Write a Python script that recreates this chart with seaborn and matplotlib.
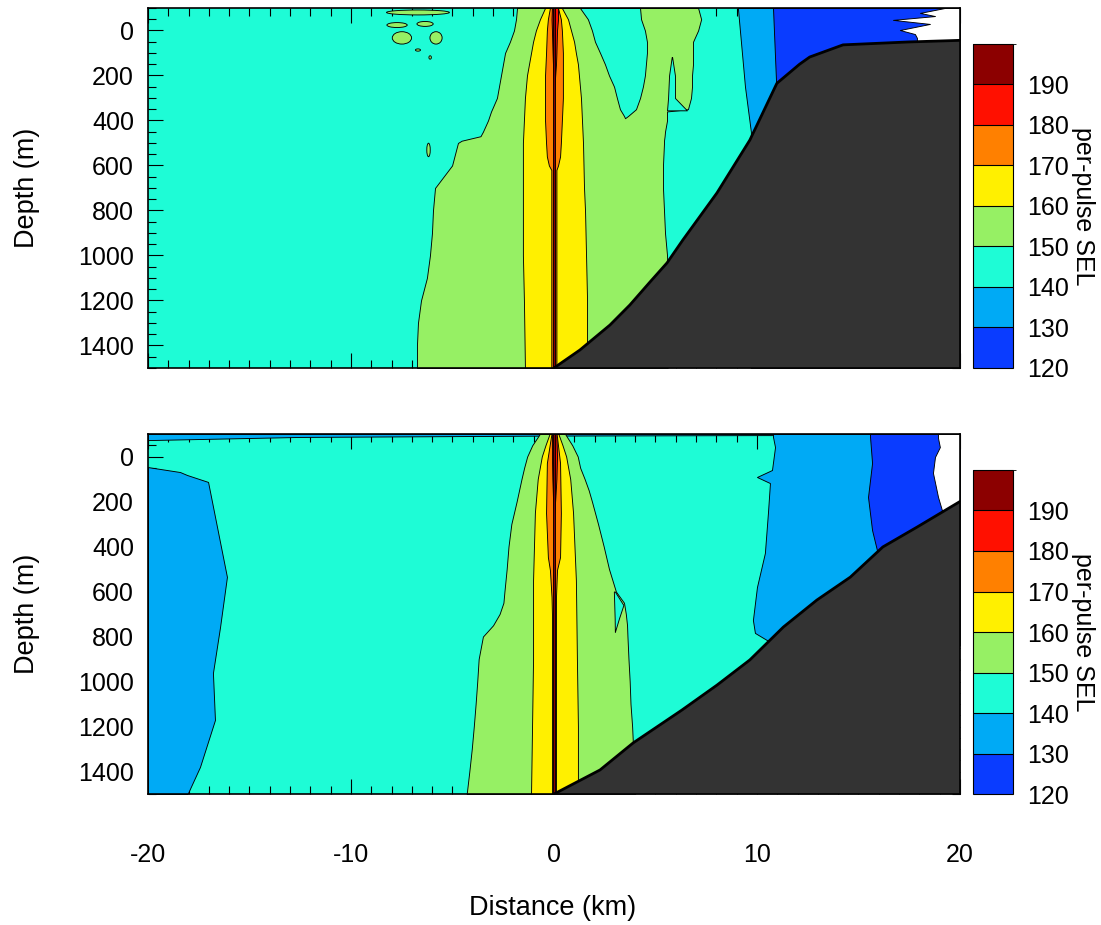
import matplotlib
matplotlib.use("Agg")
import matplotlib.pyplot as plt
import matplotlib.cm as cm
import seaborn as sns
from matplotlib.colors import ListedColormap, BoundaryNorm
from matplotlib.patches import Ellipse
from matplotlib.ticker import MultipleLocator

sns.set_style("ticks")
plt.rcParams['font.family'] = ['Liberation Sans', 'DejaVu Sans']
plt.rcParams['axes.unicode_minus'] = False
for key in ['text.color', 'axes.labelcolor', 'xtick.color', 'ytick.color', 'axes.edgecolor']:
    plt.rcParams[key] = 'black'

# SEL contour levels and their fill colours
levels = [120, 130, 140, 150, 160, 170, 180, 190, 200]
level_colors = ["#0a3cff", "#00aaf5", "#1efcd6", "#96f064",
                "#fff000", "#ff8000", "#ff1000", "#8c0000"]
seafloor_color = "#333333"

# ---------------- upper panel (contour lines) ----------------
top_floor_x = [0.0, 1.28, 2.76, 3.74, 4.73, 5.57, 6.35, 8.03, 9.65, 10.98, 12.1, 12.6, 14.24, 17.5, 20.0]
top_floor_d = [1500, 1420, 1309, 1220, 1118, 1033, 931, 722, 487, 235, 150, 118, 64, 51, 44]

top_green_d = [-100, -50, 0, 50, 100, 150, 200, 250, 300, 350, 360, 400, 450, 470, 490, 500,
               600, 700, 800, 900, 1000, 1100, 1200, 1300, 1400, 1500]
top_green_left = [-1.82, -1.87, -1.97, -2.17, -2.41, -2.51, -2.61, -2.71, -2.81, -3.05, -3.10, -3.25,
                  -3.50, -3.62, -4.55, -4.73, -5.02, -5.86, -5.96, -6.01, -6.11, -6.26, -6.55,
                  -6.70, -6.75, -6.75]
top_green_right = [7.10, 7.25, 7.10, 6.85, 6.85, 6.85, 6.80, 6.80, 6.75, 6.60, 5.57, 5.57,
                   5.47, 5.45, 5.42, 5.42, 5.37, 5.37, 5.42, 5.47, 5.57, 5.60, 5.60, 5.60, 5.60, 5.60]

top_hole1_d = [-100, -50, 0, 50, 100, 150, 200, 250, 300, 350, 380, 390]
top_hole1_left = [1.28, 1.67, 1.87, 2.02, 2.27, 2.51, 2.71, 2.96, 3.10, 3.25, 3.45, 3.50]
top_hole1_right = [4.24, 4.29, 4.48, 4.58, 4.58, 4.53, 4.48, 4.38, 4.24, 4.04, 3.65, 3.50]

top_hole2_d = [118, 200, 300, 355]
top_hole2_left = [5.80, 5.67, 5.62, 5.57]
top_hole2_right = [5.82, 5.96, 5.96, 6.55]

top_yellow_d = [-100, -50, 0, 50, 100, 150, 200, 300, 400, 500, 700, 800, 1000, 1200, 1500]
top_yellow_left = [-0.44, -0.69, -0.89, -1.03, -1.13, -1.23, -1.33, -1.43, -1.48, -1.53,
                   -1.53, -1.53, -1.53, -1.48, -1.43]
top_yellow_right = [0.39, 0.69, 0.84, 0.99, 1.08, 1.18, 1.23, 1.33, 1.38, 1.43,
                    1.48, 1.53, 1.58, 1.63, 1.63]

top_orange_d = [-100, -50, 0, 100, 200, 300, 400, 500, 560, 600, 620, 1500]
top_orange_left = [-0.20, -0.30, -0.35, -0.39, -0.44, -0.44, -0.44, -0.39, -0.35, -0.25, -0.13, -0.13]
top_orange_right = [0.20, 0.34, 0.39, 0.44, 0.44, 0.44, 0.39, 0.34, 0.30, 0.20, 0.12, 0.12]

top_red_d = [-100, -50, 0, 100, 150, 200, 260]
top_red_left = [-0.10, -0.12, -0.10, -0.07, -0.05, -0.03, 0.0]
top_red_right = [0.20, 0.20, 0.15, 0.12, 0.10, 0.06, 0.02]

top_core_d = [-100, 1500]
top_core_left = [-0.04, -0.04]
top_core_right = [0.05, 0.05]

top_b130_d = [-100, 100, 250, 450, 1500]
top_b130_left = [9.06, 9.26, 9.41, 9.70, 9.70]

top_b120_d = [-100, 250, 300, 1500]
top_b120_left = [10.79, 10.95, 11.0, 11.0]

top_white_d = [-100, -78, -64, -47, -29, -2, 16, 33, 55]
top_white_left = [19.26, 18.03, 18.77, 16.70, 18.52, 17.04, 17.78, 17.88, 17.88]

top_blob_x = [-6.70, -7.73, -6.35, -7.49, -5.81, -6.18, -6.70, -6.10]
top_blob_d = [-80, -24, -29, 33, 33, 531, 87, 120]
top_blob_w = [3.1, 1.0, 0.8, 0.95, 0.6, 0.17, 0.25, 0.12]
top_blob_h = [22, 22, 22, 55, 55, 60, 10, 15]

# ---------------- lower panel ----------------
bot_floor_x = [0.0, 2.27, 3.9, 6.3, 8.03, 9.65, 11.3, 12.95, 14.6, 16.2, 17.9, 20.0]
bot_floor_d = [1500, 1393, 1273, 1127, 1016, 904, 758, 638, 536, 402, 313, 200]

bot_strip_x = [-20, -12.5, 0, 10, 20]
bot_strip_d = [-73, -87, -93, -95, -96]

bot_left_d = [47, 69, 82, 113, 535, 758, 962, 1171, 1380, 1500]
bot_left_right = [-20, -18.42, -18.08, -17.04, -16.11, -16.45, -16.80, -16.70, -17.44, -18.05]

bot_green_d = [-100, -50, 0, 50, 100, 150, 200, 300, 400, 500, 600, 650, 700, 750, 800,
               900, 1000, 1100, 1200, 1300, 1400, 1500]
bot_green_left = [-0.70, -1.07, -1.32, -1.47, -1.60, -1.72, -1.84, -2.10, -2.24, -2.33, -2.44,
                  -2.49, -2.68, -3.00, -3.50, -3.71, -3.78, -3.86, -3.95, -4.05, -4.17, -4.30]
bot_green_right = [0.55, 0.90, 1.17, 1.29, 1.51, 1.71, 1.87, 2.17, 2.45, 2.71, 3.05, 3.45,
                   3.54, 3.60, 3.62, 3.67, 3.73, 3.77, 3.85, 3.90, 3.95, 4.00]

bot_hole_d = [600, 660, 720, 780]
bot_hole_left = [2.95, 2.97, 2.99, 3.0]
bot_hole_right = [3.0, 3.42, 3.2, 3.0]

bot_yellow_d = [-100, -50, 0, 100, 250, 550, 900, 1200, 1500]
bot_yellow_left = [-0.22, -0.42, -0.60, -0.80, -0.94, -1.03, -1.03, -1.08, -1.13]
bot_yellow_right = [0.22, 0.42, 0.60, 0.80, 0.94, 1.08, 1.13, 1.18, 1.18]

bot_orange_d = [-100, -87, 29, 251, 447, 504, 624, 700, 1500]
bot_orange_left = [-0.12, -0.15, -0.35, -0.39, -0.30, -0.20, -0.12, -0.10, -0.10]
bot_orange_right = [0.12, 0.15, 0.30, 0.34, 0.30, 0.15, 0.10, 0.10, 0.10]

bot_red_d = [-100, 0, 100, 180, 250]
bot_red_left = [-0.10, -0.10, -0.08, -0.05, 0.0]
bot_red_right = [0.12, 0.15, 0.12, 0.07, 0.02]

bot_core_d = [-100, 1500]
bot_core_left = [-0.04, -0.04]
bot_core_right = [0.05, 0.05]

bot_b130_d = [-100, -87, -42, 60, 91, 118, 251, 429, 580, 727, 784, 824, 840]
bot_b130_left = [10.79, 10.79, 10.89, 10.74, 10.0, 10.64, 10.54, 10.39, 10.0, 9.80, 9.90, 10.64, 11.0]

bot_b120_d = [-100, -87, 29, 180, 327, 416, 440]
bot_b120_left = [15.57, 15.57, 15.67, 15.47, 15.67, 15.91, 16.2]

bot_white_d = [-100, -82, -42, 2, 73, 180, 238, 260]
bot_white_left = [18.92, 18.92, 19.01, 18.77, 18.67, 18.92, 19.11, 19.3]

c120, c130, c140, c150, c160, c170, c180, c190 = level_colors
edge = dict(edgecolor="black", linewidth=0.65)


def band(ax, d, left, right, color, z):
    ax.fill_betweenx(d, left, right, facecolor=color, zorder=z, **edge)


def style_axes(ax, bottom_labels):
    ax.set_xlim(-20, 20)
    ax.set_ylim(1500, -100)
    ax.set_xticks([-20, -10, 0, 10, 20])
    ax.set_yticks([0, 200, 400, 600, 800, 1000, 1200, 1400])
    ax.xaxis.set_minor_locator(MultipleLocator(1))
    ax.yaxis.set_minor_locator(MultipleLocator(50))
    ax.tick_params(which="both", direction="in", top=True, right=True,
                   width=0.8, labelsize=18, colors="black")
    ax.tick_params(which="major", length=11)
    ax.tick_params(which="minor", length=5.5)
    ax.tick_params(axis="y", pad=10)
    ax.tick_params(axis="x", pad=35, labelbottom=bottom_labels)
    for s in ax.spines.values():
        s.set_linewidth(1.2)
        s.set_color("black")
        s.set_zorder(20)
    ax.set_xlabel("")
    ax.set_ylabel("")


fig = plt.figure(figsize=(11.01, 9.25), dpi=100)
ax1 = fig.add_axes([0.1344, 0.6022, 0.7375, 0.3892])
ax2 = fig.add_axes([0.1344, 0.1416, 0.7375, 0.3892])

# upper panel
ax1.set_facecolor(c140)
band(ax1, top_b130_d, top_b130_left, 20, c130, 2)
band(ax1, top_b120_d, top_b120_left, 20, c120, 3)
band(ax1, top_white_d, top_white_left, 20, "white", 4)
band(ax1, top_green_d, top_green_left, top_green_right, c150, 5)
band(ax1, top_hole1_d, top_hole1_left, top_hole1_right, c140, 6)
band(ax1, top_hole2_d, top_hole2_left, top_hole2_right, c140, 6)
for bx, bd, bw, bh in zip(top_blob_x, top_blob_d, top_blob_w, top_blob_h):
    ax1.add_patch(Ellipse((bx, bd), bw, bh, facecolor=c150, zorder=6, **edge))
band(ax1, top_yellow_d, top_yellow_left, top_yellow_right, c160, 7)
band(ax1, top_orange_d, top_orange_left, top_orange_right, c170, 8)
band(ax1, top_red_d, top_red_left, top_red_right, c180, 9)
band(ax1, top_core_d, top_core_left, top_core_right, c190, 10)
ax1.fill_between(top_floor_x, top_floor_d, 1500, color=seafloor_color, zorder=11, lw=0)
sns.lineplot(x=top_floor_x, y=top_floor_d, ax=ax1, color="black", linewidth=2.0,
             sort=False, zorder=12)
style_axes(ax1, False)

# lower panel
ax2.set_facecolor(c140)
ax2.fill_between(bot_strip_x, -100, bot_strip_d, facecolor=c130, zorder=2, **edge)
band(ax2, bot_left_d, -20, bot_left_right, c130, 2)
band(ax2, bot_b130_d, bot_b130_left, 20, c130, 2)
band(ax2, bot_b120_d, bot_b120_left, 20, c120, 3)
band(ax2, bot_white_d, bot_white_left, 20, "white", 4)
band(ax2, bot_green_d, bot_green_left, bot_green_right, c150, 5)
band(ax2, bot_hole_d, bot_hole_left, bot_hole_right, c140, 6)
band(ax2, bot_yellow_d, bot_yellow_left, bot_yellow_right, c160, 7)
band(ax2, bot_orange_d, bot_orange_left, bot_orange_right, c170, 8)
band(ax2, bot_red_d, bot_red_left, bot_red_right, c180, 9)
band(ax2, bot_core_d, bot_core_left, bot_core_right, c190, 10)
ax2.fill_between(bot_floor_x, bot_floor_d, 1500, color=seafloor_color, zorder=11, lw=0)
sns.lineplot(x=bot_floor_x, y=bot_floor_d, ax=ax2, color="black", linewidth=2.0,
             sort=False, zorder=12)
style_axes(ax2, True)

# colour bars
cmap = ListedColormap(level_colors)
norm = BoundaryNorm(levels, cmap.N)
for cb_bottom, lab_y in [(0.6022, 0.777), (0.1416, 0.316)]:
    cax = fig.add_axes([0.8837, cb_bottom, 0.0363, 0.3503])
    cb = fig.colorbar(cm.ScalarMappable(norm=norm, cmap=cmap), cax=cax,
                      ticks=levels[:-1], drawedges=True)
    cb.outline.set_linewidth(0.8)
    cb.outline.set_edgecolor("black")
    cb.dividers.set_color("black")
    cb.dividers.set_linewidth(0.8)
    cb.ax.tick_params(length=0, labelsize=18, pad=10, colors="black")
    fig.text(0.984, lab_y, "per-pulse SEL", rotation=270, fontsize=18,
             ha="center", va="center")

fig.text(27 / 1101, 0.797, "Depth (m)", rotation=90, fontsize=19.5, ha="center", va="center")
fig.text(27 / 1101, 0.336, "Depth (m)", rotation=90, fontsize=19.5, ha="center", va="center")
fig.text(0.502, 0.018, "Distance (km)", fontsize=19.5, ha="center", va="center")

fig.savefig("out.png", dpi=100)
